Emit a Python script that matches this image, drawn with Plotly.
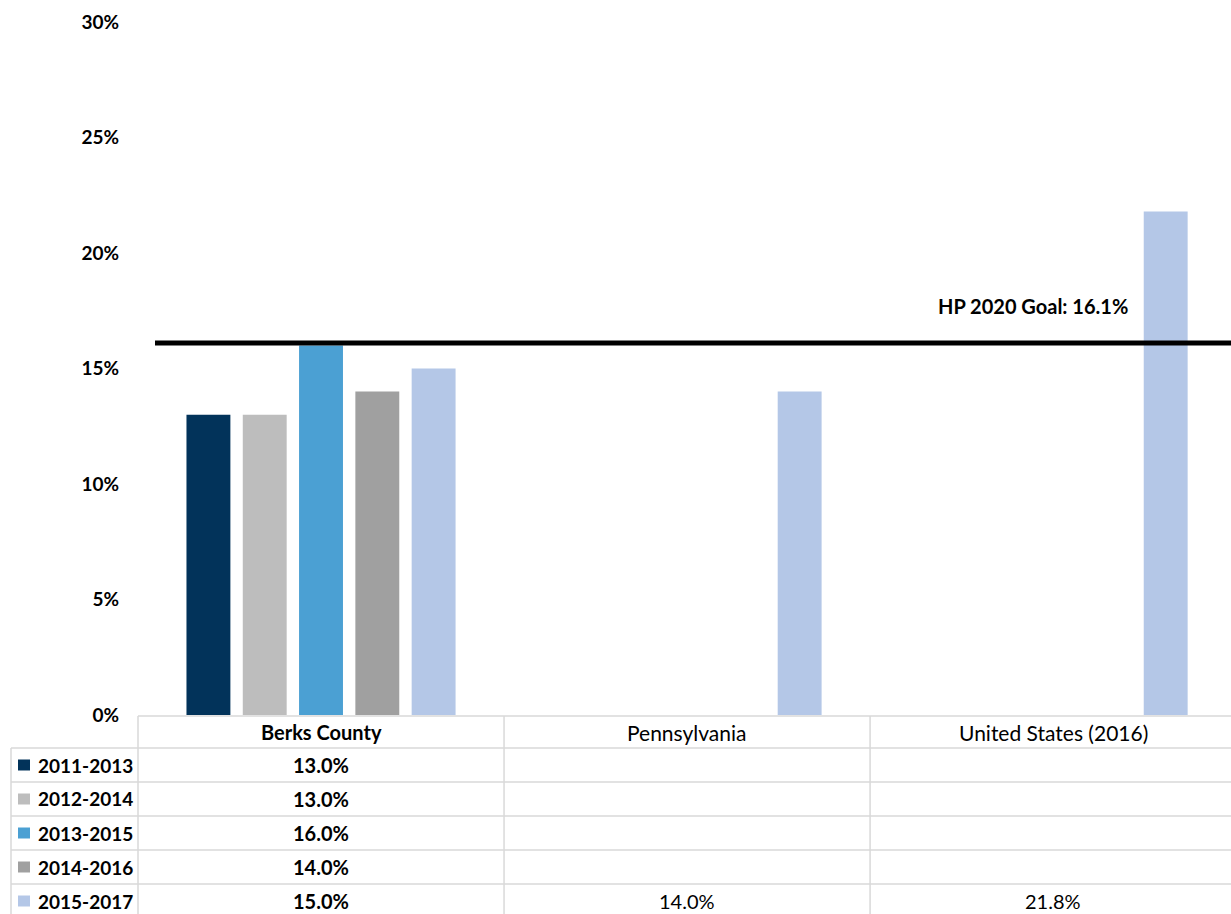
import plotly.graph_objects as go

# ---------------- data ----------------
categories = ["Berks County", "Pennsylvania", "United States (2016)"]
periods = ["2011-2013", "2012-2014", "2013-2015", "2014-2016", "2015-2017"]
v_2011_2013 = [13.0, None, None]
v_2012_2014 = [13.0, None, None]
v_2013_2015 = [16.0, None, None]
v_2014_2016 = [14.0, None, None]
v_2015_2017 = [15.0, 14.0, 21.8]
series_values = [v_2011_2013, v_2012_2014, v_2013_2015, v_2014_2016, v_2015_2017]
goal_value = 16.1
goal_label = f"HP 2020 Goal: {goal_value}%"
y_ticks = [0, 5, 10, 15, 20, 25, 30]

# ---------------- style ----------------
colors = ["#02335A", "#BDBDBD", "#4BA0D3", "#A0A0A0", "#B4C7E7"]
highlight = "Berks County"
FONT = "Lato"
W, H = 1231, 914
L, R, T, B = 138, 0, 22, 199
PW, PH = W - L - R, H - T - B
XR = (-0.5, 2.486)
GRID = "#D9D9D9"


def px_x(v):  # category coordinate -> pixel
    return L + (v - XR[0]) / (XR[1] - XR[0]) * PW


def paper_x(p):
    return (p - L) / PW


def paper_y(p):
    return (H - B - p) / PH


fig = go.Figure()
for name, vals, col in zip(periods, series_values, colors):
    fig.add_trace(go.Bar(x=categories, y=vals, name=name, marker=dict(color=col, line=dict(width=0)),
                         hoverinfo="x+y+name"))

shapes = []
annotations = []

# goal line + label
shapes.append(dict(type="line", xref="paper", yref="y", x0=paper_x(155), x1=1, y0=goal_value, y1=goal_value,
                   line=dict(color="black", width=5), layer="above"))
annotations.append(dict(xref="paper", yref="y", x=paper_x(1033), y=goal_value, yshift=37, text=goal_label,
                        showarrow=False, font=dict(family=FONT, size=20, color="black", weight="bold"),
                        xanchor="center", yanchor="middle"))

# data table geometry (pixels)
header_top, header_bot = 716, 748
row_h = 34
n = len(periods)
row_tops = [header_bot + row_h * i for i in range(n)]
bounds = [px_x(i - 0.5) for i in range(len(categories))]

# horizontal lines
shapes.append(dict(type="line", xref="paper", yref="paper", x0=paper_x(bounds[0]), x1=1,
                   y0=paper_y(header_top), y1=paper_y(header_top), line=dict(color=GRID, width=1.5)))
for t in row_tops:
    shapes.append(dict(type="line", xref="paper", yref="paper", x0=paper_x(11), x1=1,
                       y0=paper_y(t), y1=paper_y(t), line=dict(color=GRID, width=1.5)))
# vertical lines
for bx in bounds:
    shapes.append(dict(type="line", xref="paper", yref="paper", x0=paper_x(bx), x1=paper_x(bx),
                       y0=paper_y(header_top), y1=paper_y(H), line=dict(color=GRID, width=1.5)))
shapes.append(dict(type="line", xref="paper", yref="paper", x0=paper_x(11), x1=paper_x(11),
                   y0=paper_y(header_bot), y1=paper_y(H), line=dict(color=GRID, width=1.5)))

# header labels
for i, c in enumerate(categories):
    annotations.append(dict(xref="paper", yref="paper", x=paper_x(px_x(i)),
                            y=paper_y((header_top + header_bot) / 2), text=c, showarrow=False,
                            xanchor="center", yanchor="middle",
                            font=dict(family=FONT, size=20 if c == highlight else 21, color="black",
                                      weight="bold" if c == highlight else "normal")))

# rows
for r, (name, vals, col) in enumerate(zip(periods, series_values, colors)):
    cy = row_tops[r] + row_h / 2
    shapes.append(dict(type="rect", xref="paper", yref="paper", x0=paper_x(18), x1=paper_x(30),
                       y0=paper_y(cy - 5.5), y1=paper_y(cy + 5.5), fillcolor=col, line=dict(width=0)))
    annotations.append(dict(xref="paper", yref="paper", x=paper_x(36), y=paper_y(cy), text=name,
                            showarrow=False, xanchor="left", yanchor="middle",
                            font=dict(family=FONT, size=19, color="black", weight="bold")))
    for i, (c, v) in enumerate(zip(categories, vals)):
        if v is None:
            continue
        annotations.append(dict(xref="paper", yref="paper", x=paper_x(px_x(i)), y=paper_y(cy),
                                text=f"{v:.1f}%", showarrow=False, xanchor="center", yanchor="middle",
                                font=dict(family=FONT, size=20, color="black",
                                          weight="bold" if c == highlight else "normal")))

fig.update_layout(
    width=W, height=H,
    margin=dict(l=L, r=R, t=T, b=B, pad=0),
    paper_bgcolor="white", plot_bgcolor="white",
    barmode="group", bargap=0.231, bargroupgap=0.22,
    showlegend=False,
    shapes=shapes, annotations=annotations,
    font=dict(family=FONT, color="black"),
    xaxis=dict(type="category", range=list(XR), showticklabels=False, showgrid=False,
               zeroline=False, showline=False, ticks=""),
    yaxis=dict(range=[0, 30], tickvals=y_ticks, ticktext=[f"{t}%" for t in y_ticks],
               showgrid=False, zeroline=False, showline=False, ticks="",
               tickfont=dict(family=FONT, size=19, color="black", weight="bold"),
               ticklabelstandoff=18),
)

fig.write_html("out.html")
